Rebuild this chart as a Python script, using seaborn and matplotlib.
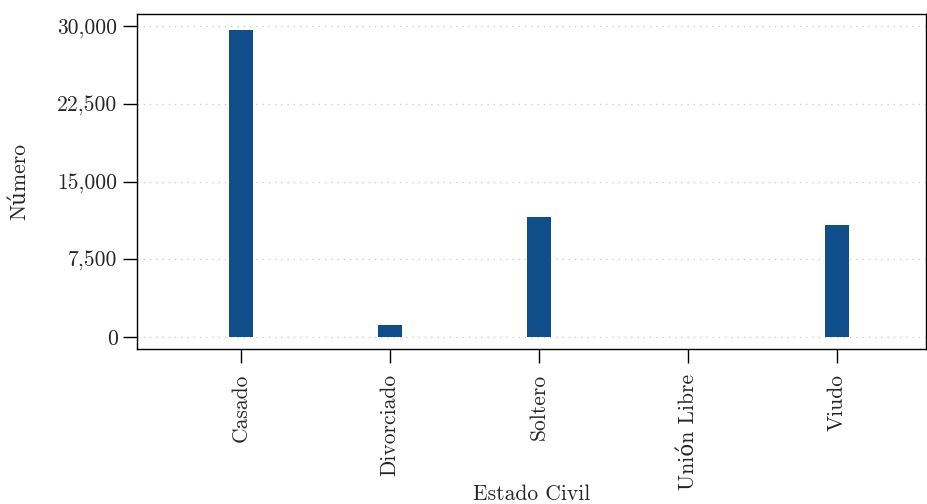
import numpy as np
import pandas as pd
import matplotlib
matplotlib.use("Agg")
import matplotlib.pyplot as plt
import matplotlib.ticker as mticker
import seaborn as sns

sns.set_style("white")
plt.rcParams['font.family'] = ['cmr10', 'DejaVu Serif']
plt.rcParams['axes.formatter.use_mathtext'] = True

# data
estado_civil = ['Casado', 'Divorciado', 'Soltero', 'Unión Libre', 'Viudo']
numero = [29600, 1150, 11570, 0, 10850]
y_ticks = [0, 7500, 15000, 22500, 30000]

df = pd.DataFrame({'Estado Civil': estado_civil, 'Número': numero})

fig = plt.figure(figsize=(9.28, 5.04), dpi=100)
ax = fig.add_axes([0.1476, 0.3075, 0.8502, 0.6647])

sns.barplot(data=df, x='Estado Civil', y='Número', color='#104e8b',
            width=0.16, linewidth=0, saturation=1, ax=ax)

ax.set_xlim(-0.7, 4.6)
ax.set_ylim(-1160, 31160)
ax.set_yticks(y_ticks)
ax.yaxis.set_major_formatter(mticker.StrMethodFormatter('{x:,.0f}'))
ax.yaxis.grid(True, linestyle=(0, (1, 4)), color='#c8c8c8', linewidth=0.9)
ax.set_axisbelow(True)

for s in ax.spines.values():
    s.set_color('black')
    s.set_linewidth(1.0)

ax.tick_params(axis='both', direction='out', length=10, width=1.0,
               color='black', labelsize=15.5, pad=4, bottom=True, left=True)
ax.tick_params(axis='x', labelrotation=90, pad=8)

ax.set_xlabel('Estado Civil', fontsize=15.5, labelpad=-4)
ax.set_ylabel('Número', fontsize=15.5, labelpad=20)

fig.savefig('out.png', dpi=100)
